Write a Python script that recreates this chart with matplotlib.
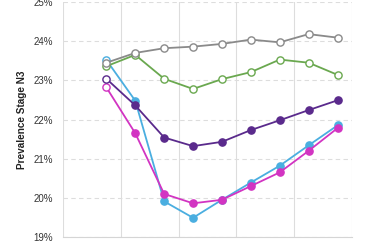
import matplotlib
matplotlib.use("Agg")
import matplotlib.pyplot as plt
from matplotlib.ticker import FuncFormatter

plt.rcParams['font.family'] = ['Liberation Sans', 'DejaVu Sans']

# values (prevalence, %)
steps = list(range(9))
gray_vals = [23.45, 23.70, 23.82, 23.86, 23.93, 24.04, 23.97, 24.18, 24.09]
green_vals = [23.36, 23.65, 23.04, 22.78, 23.03, 23.21, 23.53, 23.45, 23.14]
purple_vals = [23.04, 22.36, 21.54, 21.32, 21.43, 21.73, 21.98, 22.24, 22.49]
blue_vals = [23.52, 22.48, 19.91, 19.49, 19.95, 20.39, 20.82, 21.34, 21.85]
magenta_vals = [22.82, 21.65, 20.10, 19.86, 19.95, 20.30, 20.65, 21.20, 21.78]

fig = plt.figure(figsize=(3.7, 2.47), dpi=100)
ax = fig.add_axes([63 / 370, 10 / 247, 289 / 370, 235 / 247])


def draw(vals, colour, open_all, z):
    ax.plot(steps, vals, color=colour, lw=1.3, zorder=z)
    if open_all:
        ax.plot(steps, vals, 'o', ms=5.2, mfc='white', mec=colour, mew=1.0, zorder=z)
    else:
        ax.plot(steps[1:], vals[1:], 'o', ms=5.2, mfc=colour, mec=colour, zorder=z)
        ax.plot(steps[:1], vals[:1], 'o', ms=5.2, mfc='white', mec=colour, mew=1.0, zorder=z)


draw(blue_vals, '#4aaee0', False, 3)
draw(magenta_vals, '#d234c2', False, 4)
draw(purple_vals, '#5a2a8c', False, 5)
draw(green_vals, '#6aa84f', True, 6)
draw(gray_vals, '#8a8a8a', True, 7)

ax.set_xlim(-1.5, 8.5)
ax.set_ylim(19, 25)
ax.set_yticks([19, 20, 21, 22, 23, 24, 25])
ax.yaxis.set_major_formatter(FuncFormatter(lambda v, p: f"{v:.0f}%"))
ax.set_xticks([-1.5, 0.5, 2.5, 4.5, 6.5, 8.5])
ax.set_xticklabels([])
ax.tick_params(axis='y', length=0, pad=7, labelsize=7, labelcolor='#333333')
ax.tick_params(axis='x', length=0)

ax.grid(axis='y', color='#dddddd', lw=0.8, ls=(0, (4, 3)))
ax.grid(axis='x', color='#dddddd', lw=0.8)
for s in ['top', 'right', 'left']:
    ax.spines[s].set_visible(False)
ax.spines['bottom'].set_color('#d5d5d5')

ax.set_ylabel('Prevalence Stage N3', fontsize=7.2, fontweight='bold', color='#222222')
ax.yaxis.set_label_coords(-0.125, 0.5)

fig.savefig('out.png', dpi=100)
